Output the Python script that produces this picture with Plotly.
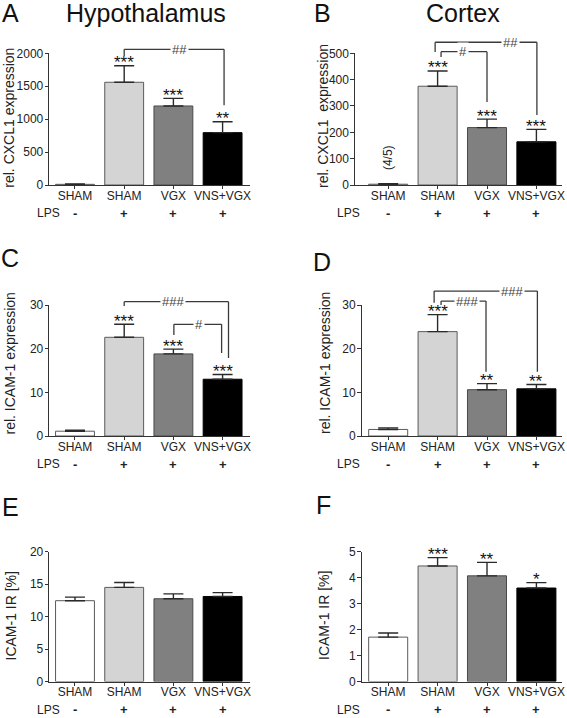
import plotly.graph_objects as go

# ---------------- data ----------------
groups = ["SHAM", "SHAM", "VGX", "VNS+VGX"]
lps = ["-", "+", "+", "+"]

a_vals = [10, 1560, 1200, 795]
a_err = [5, 250, 115, 165]
a_sig = ["", "***", "***", "**"]

b_vals = [3, 375, 218, 164]
b_err = [2, 58, 32, 47]
b_sig = ["", "***", "***", "***"]

c_vals = [1.1, 22.6, 18.8, 13.0]
c_err = [0.2, 3.0, 1.1, 1.1]
c_sig = ["", "***", "***", "***"]

d_vals = [1.5, 23.9, 10.6, 10.8]
d_err = [0.35, 3.9, 1.4, 1.0]
d_sig = ["", "***", "**", "**"]

e_vals = [12.45, 14.5, 12.75, 13.1]
e_err = [0.55, 0.75, 0.75, 0.6]
e_sig = ["", "", "", ""]

f_vals = [1.71, 4.45, 4.07, 3.6]
f_err = [0.16, 0.32, 0.52, 0.21]
f_sig = ["", "***", "**", "*"]

# brackets: (x_left, x_right, y_top, y_left_end, y_right_end, label, label_x)
a_br = [(1.0, 3.03, 2061, 1960, 1212, "##", 2.13)]
b_br = [(0.95, 3.01, 542, 505, 266, "##", 2.47),
        (1.07, 2.0, 506, 486, 315, "#", 1.51)]
c_br = [(1.0, 3.12, 30.76, 29.77, 17.86, "###", 1.99),
        (2.01, 2.98, 25.58, 23.13, 19.0, "#", 2.52)]
d_br = [(0.93, 3.02, 33.2, 30.5, 14.7, "###", 2.5),
        (1.07, 1.98, 30.9, 30.0, 14.7, "###", 1.59)]

bar_colors = ["#ffffff", "#d4d4d4", "#808080", "#000000"]
bar_lines = ["#5a5a5a", "#5a5a5a", "#4a4a4a", "#000000"]

W, H = 567, 718
FONT = "Liberation Sans, Arial, sans-serif"
INK = "#222222"

panels = [
    dict(vals=a_vals, err=a_err, sig=a_sig, br=a_br, ymax=2000, ticks=[0, 500, 1000, 1500, 2000],
         xpx=(49.3, 250), ypx=(53.3, 185), xr=(-0.522, 3.557), title="rel. CXCL1 expression",
         tx=9.2, ty=117.5, letter="A", lx=10, ly=13, head="Hypothalamus", hx=145.5, hy=13,
         lpsx=35),
    dict(vals=b_vals, err=b_err, sig=b_sig, br=b_br, ymax=500, ticks=[0, 100, 200, 300, 400, 500],
         xpx=(355, 562), ypx=(53.3, 185), xr=(-0.672, 3.518), title="rel. CXCL1\u00a0 expression",
         tx=322.5, ty=116.5, letter="B", lx=322, ly=13, head="Cortex", hx=462.5, hy=13,
         lpsx=348),
    dict(vals=c_vals, err=c_err, sig=c_sig, br=c_br, ymax=30, ticks=[0, 10, 20, 30],
         xpx=(49.3, 250), ypx=(305, 436), xr=(-0.522, 3.557), title="rel. ICAM-1 expression",
         tx=9.5, ty=364, letter="C", lx=10, ly=258, head=None, lpsx=35),
    dict(vals=d_vals, err=d_err, sig=d_sig, br=d_br, ymax=30, ticks=[0, 10, 20, 30],
         xpx=(361.7, 562), ypx=(305, 436), xr=(-0.536, 3.518), title="rel. ICAM-1 expression",
         tx=325, ty=363, letter="D", lx=322, ly=262, head=None, lpsx=348),
    dict(vals=e_vals, err=e_err, sig=e_sig, br=[], ymax=20, ticks=[0, 5, 10, 15, 20],
         xpx=(49.3, 250), ypx=(551.7, 681.5), xr=(-0.522, 3.557), title="ICAM-1 IR [%]",
         tx=10.5, ty=616, letter="E", lx=10, ly=507, head=None, lpsx=35),
    dict(vals=f_vals, err=f_err, sig=f_sig, br=[], ymax=5, ticks=[0, 1, 2, 3, 4, 5],
         xpx=(361.7, 562), ypx=(551.7, 681.5), xr=(-0.536, 3.518), title="ICAM-1 IR [%]",
         tx=324, ty=616, letter="F", lx=323, ly=505, head=None, lpsx=348),
]

fig = go.Figure()
annotations = []
shapes = []
layout = {}
xs = list(range(len(groups)))

for i, p in enumerate(panels):
    n = "" if i == 0 else str(i + 1)
    xa, ya = "x" + n, "y" + n
    fig.add_trace(go.Bar(
        x=xs, y=p["vals"], xaxis=xa, yaxis=ya, width=0.79,
        marker=dict(color=bar_colors, line=dict(color=bar_lines, width=1)),
        error_y=dict(type="data", array=p["err"], arrayminus=[0] * len(xs), symmetric=False,
                     color="#2a2a2a", thickness=1.4, width=10),
        hoverinfo="skip",
    ))
    layout["xaxis" + n] = dict(
        domain=[p["xpx"][0] / W, p["xpx"][1] / W], anchor=ya, range=list(p["xr"]),
        tickvals=xs, ticktext=groups, ticks="outside", ticklen=3, tickwidth=1, tickcolor="#333",
        showline=True, linecolor="#333", linewidth=1.3, showgrid=False, zeroline=False,
        tickfont=dict(family=FONT, size=12, color=INK), fixedrange=True,
        ticklabelstandoff=-4, automargin=False,
    )
    layout["yaxis" + n] = dict(
        domain=[1 - p["ypx"][1] / H, 1 - p["ypx"][0] / H], anchor=xa, range=[0, p["ymax"]],
        tickvals=p["ticks"], ticks="outside", ticklen=3.5, tickwidth=1, tickcolor="#333",
        showline=True, linecolor="#333", linewidth=1.3, showgrid=False, zeroline=False,
        tickfont=dict(family=FONT, size=12, color=INK), fixedrange=True, automargin=False,
        ticklabelstandoff=-1,
    )
    ydom = ya + " domain"
    ymax = p["ymax"]
    # significance stars
    for j, s in enumerate(p["sig"]):
        if s:
            annotations.append(dict(
                x=xs[j], xref=xa, y=(p["vals"][j] + p["err"][j]) / ymax, yref=ydom,
                text=s, showarrow=False, yanchor="middle", yshift=3,
                font=dict(family=FONT, size=17, color="#111")))
    # brackets
    for (x0, x1, yt, yl, yr, lab, lx) in p["br"]:
        lc = dict(color="#3a3a3a", width=1.3)
        shapes.append(dict(type="line", xref=xa, yref=ydom, x0=x0, x1=x0, y0=yl / ymax, y1=yt / ymax, line=lc))
        shapes.append(dict(type="line", xref=xa, yref=ydom, x0=x0, x1=x1, y0=yt / ymax, y1=yt / ymax, line=lc))
        shapes.append(dict(type="line", xref=xa, yref=ydom, x0=x1, x1=x1, y0=yt / ymax, y1=yr / ymax, line=lc))
        annotations.append(dict(
            x=lx, xref=xa, y=yt / ymax, yref=ydom, text=lab, showarrow=False,
            yanchor="middle", bgcolor="white", borderpad=1,
            font=dict(family=FONT, size=13, color="#444")))
    # LPS row
    for j, s in enumerate(lps):
        annotations.append(dict(
            x=xs[j], xref=xa, y=0, yref=ydom, text="<b>" + s + "</b>", showarrow=False,
            yanchor="middle", yshift=-28, font=dict(family=FONT, size=13, color=INK)))
    annotations.append(dict(
        x=p["lpsx"] / W, xref="paper", y=0, yref=ydom, text="LPS", showarrow=False,
        yanchor="middle", yshift=-28, font=dict(family=FONT, size=12, color=INK)))
    # y axis title
    annotations.append(dict(
        x=p["tx"] / W, xref="paper", y=1 - p["ty"] / H, yref="paper", text=p["title"],
        textangle=-90, showarrow=False, xanchor="center", yanchor="middle",
        font=dict(family=FONT, size=14, color=INK)))
    # panel letter
    annotations.append(dict(
        x=p["lx"] / W, xref="paper", y=1 - p["ly"] / H, yref="paper", text=p["letter"],
        showarrow=False, xanchor="center", yanchor="middle",
        font=dict(family=FONT, size=25, color="#111")))
    if p["head"]:
        annotations.append(dict(
            x=p["hx"] / W, xref="paper", y=1 - p["hy"] / H, yref="paper", text=p["head"],
            showarrow=False, xanchor="center", yanchor="middle",
            font=dict(family=FONT, size=25, color="#111")))

# (4/5) label in panel B
annotations.append(dict(
    x=xs[0], xref="x2", y=103, yref="y2", text="(4/5)", textangle=-90, showarrow=False,
    xanchor="center", yanchor="middle", font=dict(family=FONT, size=12, color=INK)))

fig.update_layout(
    width=W, height=H, margin=dict(l=0, r=0, t=0, b=0, pad=0, autoexpand=False),
    paper_bgcolor="white", plot_bgcolor="white", showlegend=False,
    annotations=annotations, shapes=shapes, bargap=0.2,
    **layout,
)
fig.write_html("out.html", config={"displayModeBar": False},
               post_script="document.body.style.margin='0px';document.body.style.overflow='hidden';")
